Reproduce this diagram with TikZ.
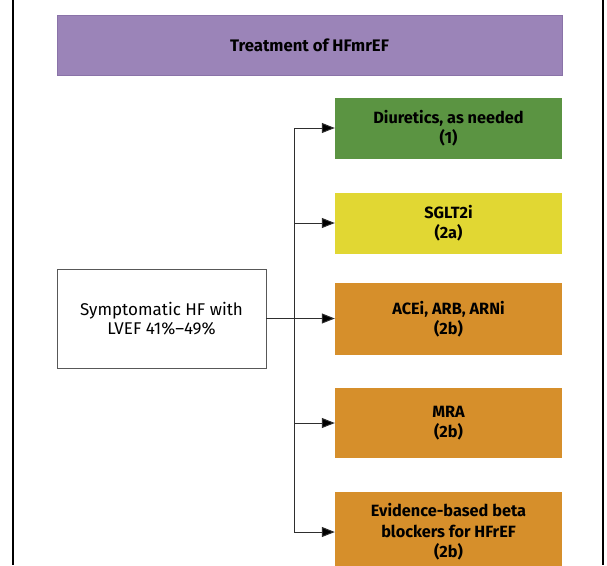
\documentclass[tikz,border=0pt]{standalone}
\usepackage{fontspec}
\setmainfont{Fira Sans}
\usetikzlibrary{positioning, arrows.meta}
\definecolor{hfPurple}{HTML}{9B84B8}
\definecolor{hfPurpleDark}{HTML}{8A73A8}
\definecolor{recGreen}{HTML}{5B9442}
\definecolor{recYellow}{HTML}{E1D733}
\definecolor{recOrange}{HTML}{D68F2B}
\definecolor{lineGray}{HTML}{2E2E2E}

\begin{document}
\begin{tikzpicture}[
  x=1pt, y=-1pt,
  every node/.style={font=\fontsize{17}{19.5}\selectfont, text=black},
  banner/.style={
    rectangle, minimum width=505pt, minimum height=60pt,
    fill=hfPurple, draw=hfPurpleDark, line width=1pt,
    font=\fontsize{16.7}{19}\selectfont\bfseries
  },
  condition/.style={
    rectangle, minimum width=209pt, minimum height=99pt,
    draw=lineGray!80, line width=0.9pt, fill=white, align=center
  },
  therapy/.style={
    rectangle, minimum width=227pt, minimum height=61pt,
    align=center, font=\fontsize{16.3}{20.5}\selectfont\bfseries
  },
  branch/.style={
    draw=lineGray, line width=1pt,
    -{Triangle[length=13pt,width=10pt,fill=black]}
  },
]
\useasboundingbox (0,0) rectangle (607,565);

% Frame
\draw[line width=1.6pt] (13,0) -- (13,565);
\draw[line width=1.6pt] (603,0) -- (603,565);

% Heading
\node[banner] (head) at (309.5,45) {Treatment of HFmrEF};

% Patient group
\node[condition] (src) at (161.5,318.5) {Symptomatic HF with\\LVEF 41\%–49\%};

% Recommendations
\node[therapy, fill=recGreen] (t1) at (448.5,128) {Diuretics, as needed\\(1)};
\node[therapy, fill=recYellow] (t2) at (448.5,223) {SGLT2i\\(2a)};
\node[therapy, fill=recOrange, minimum height=72pt] (t3) at (448.5,319) {ACEi, ARB, ARNi\\(2b)};
\node[therapy, fill=recOrange, minimum height=70pt] (t4) at (448.5,423) {MRA\\(2b)};
\node[therapy, fill=recOrange, minimum height=80pt] (t5) at (448.5,532) {Evidence-based beta\\blockers for HFrEF\\(2b)};

% Branches
\draw[branch] (src.east) -- (src.east -| t3.west);
\foreach \k in {1,2,4,5} {
  \draw[branch] (src.east) -- ++(28,0) |- (t\k.west);
}

\end{tikzpicture}
\end{document}
